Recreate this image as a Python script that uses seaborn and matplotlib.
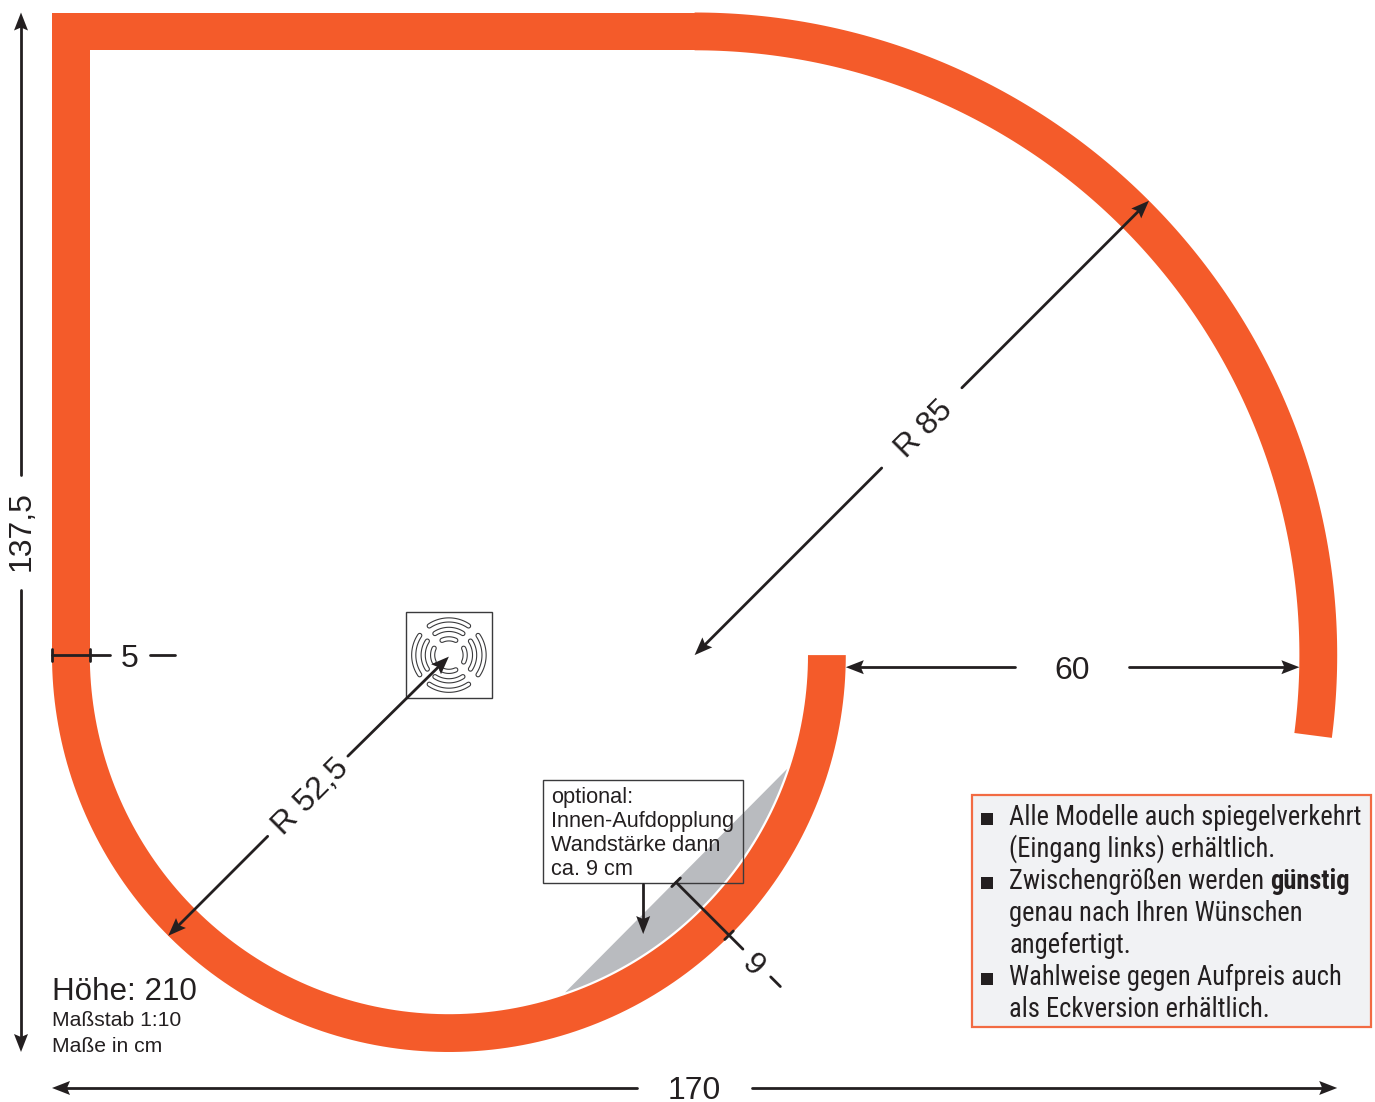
import numpy as np
import pandas as pd
import matplotlib
matplotlib.use("Agg")
import matplotlib.pyplot as plt
from matplotlib.patches import Polygon, Rectangle
from matplotlib import font_manager as fm
import seaborn as sns

# ---- drawing dimensions, all in cm ----
TOTAL_WIDTH = 170
TOTAL_DEPTH = 137.5
WALL = 5
R_LARGE = 85
R_SMALL = 52.5
LARGE_END_DEG = -7.4
OPENING = 60
PX_PER_CM = 7.56

DIM_LEFT_X = -4.1
DIM_BOTTOM_Y = -4.76
DIM_60_Y = 50.9

DIM_LABELS = ["137,5", "170", "60", "R 85", "R 52,5", "5", "9"]
SCALE_LINES = ["Höhe: 210", "Maßstab 1:10", "Maße in cm"]
OPTION_LINES = ["optional:", "Innen-Aufdopplung", "Wandstärke dann", "ca. 9 cm"]
OPTION_BASELINES = [32.9, 29.8, 26.6, 23.4]
NOTE_LINES = ["Alle Modelle auch spiegelverkehrt", "(Eingang links) erhältlich.",
              "Zwischengrößen werden ", "genau nach Ihren Wünschen", "angefertigt.",
              "Wahlweise gegen Aufpreis auch", "als Eckversion erhältlich."]
NOTE_BASELINES = [30.0, 25.8, 21.5, 17.3, 13.1, 8.8, 4.6]
NOTE_BULLET_ROWS = [0, 2, 5]
NOTE_BOLD = "günstig"

DRAIN_RADII = [2.15, 3.4, 4.65]
DRAIN_SPANS = [25, 33, 34]

ORANGE = "#f45b2a"
INK = "#231f20"
GREY = "#b9bbbf"
BOX_FILL = "#f1f2f4"
BOX_EDGE = "#f26b43"

sns.set_theme(style="white")
families = {f.name for f in fm.fontManager.ttflist}
NARROW = next((f for f in ["Roboto Condensed", "PT Sans Narrow", "Pragati Narrow", "Archivo Narrow",
                           "Liberation Sans"] if f in families), "DejaVu Sans")
plt.rcParams["font.family"] = ["Liberation Sans", "DejaVu Sans"]

fig, ax = plt.subplots(figsize=(13.75, 11.02), dpi=100)
ax.set_position([0, 0, 1, 1])


def arc(cx, cy, r, a0, a1, n=160):
    t = np.radians(np.linspace(a0, a1, n))
    return np.column_stack([cx + r * np.cos(t), cy + r * np.sin(t)])


def polar(cx, cy, r, deg):
    t = np.radians(deg)
    return cx + r * np.cos(t), cy + r * np.sin(t)


cx_l, cy_l = R_LARGE, TOTAL_DEPTH - R_LARGE
cx_s, cy_s = R_SMALL, R_SMALL

# grey optional lining
grey_arc = arc(cx_s, cy_s, R_SMALL - WALL - 0.3, -71, -18.6)
ax.add_patch(Polygon(grey_arc, closed=True, fc=GREY, ec="none", zorder=1))

# walls
large = np.vstack([arc(cx_l, cy_l, R_LARGE, 90, LARGE_END_DEG),
                   arc(cx_l, cy_l, R_LARGE - WALL, LARGE_END_DEG, 90)])
ax.add_patch(Polygon(large, closed=True, fc=ORANGE, ec="none", zorder=2))
small = np.vstack([arc(cx_s, cy_s, R_SMALL, 180, 360),
                   arc(cx_s, cy_s, R_SMALL - WALL, 360, 180)])
ax.add_patch(Polygon(small, closed=True, fc=ORANGE, ec="none", zorder=2))
ax.add_patch(Rectangle((0, TOTAL_DEPTH - WALL), R_LARGE + 2, WALL, fc=ORANGE, ec="none", zorder=2))
ax.add_patch(Rectangle((0, R_SMALL - 0.1), WALL, TOTAL_DEPTH - R_SMALL + 0.1, fc=ORANGE, ec="none", zorder=2))

# plain dimension strokes
p9a = polar(cx_s, cy_s, 42.5, -45)
p9b = polar(cx_s, cy_s, 52.4, -45)
p9c = polar(cx_s, cy_s, 55.0, -45)
d60 = polar(cx_s, cy_s, 60.2, -45)
d62 = polar(cx_s, cy_s, 62.0, -45)
tick = 0.8 * np.array([np.cos(np.radians(45)), np.sin(np.radians(45))])
segments = [
    ((0, R_SMALL), (7.7, R_SMALL)),
    ((12.9, R_SMALL), (16.3, R_SMALL)),
    ((0, R_SMALL - 0.8), (0, R_SMALL + 0.8)),
    ((WALL, R_SMALL - 0.8), (WALL, R_SMALL + 0.8)),
    (p9a, p9c),
    (tuple(np.array(p9a) - tick), tuple(np.array(p9a) + tick)),
    (tuple(np.array(p9b) - tick), tuple(np.array(p9b) + tick)),
    (d60, d62),
]

HEAD_LEN = 18 / PX_PER_CM
HEAD_HALF = 7 / PX_PER_CM
HEAD_NOTCH = 3 / PX_PER_CM


def arrow(start, tip):
    start = np.asarray(start, float)
    tip = np.asarray(tip, float)
    u = (tip - start) / np.linalg.norm(tip - start)
    n = np.array([-u[1], u[0]])
    back = tip - u * HEAD_LEN
    ax.add_patch(Polygon([tip, back + n * HEAD_HALF, back + u * HEAD_NOTCH, back - n * HEAD_HALF],
                         closed=True, fc=INK, ec="none", zorder=6))
    segments.append((tuple(start), tuple(back + u * (HEAD_NOTCH + 0.2))))


arrow((DIM_LEFT_X, 76.3), (DIM_LEFT_X, TOTAL_DEPTH))
arrow((DIM_LEFT_X, 61.1), (DIM_LEFT_X, 0))
arrow((77.4, DIM_BOTTOM_Y), (0, DIM_BOTTOM_Y))
arrow((92.6, DIM_BOTTOM_Y), (TOTAL_WIDTH, DIM_BOTTOM_Y))
arrow((127.4, DIM_60_Y), (TOTAL_WIDTH - WALL - OPENING, DIM_60_Y))
arrow((142.5, DIM_60_Y), (TOTAL_WIDTH - WALL, DIM_60_Y))
arrow(polar(cx_l, cy_l, 35, 45), (cx_l, cy_l))
arrow(polar(cx_l, cy_l, 50, 45), polar(cx_l, cy_l, R_LARGE, 45))
arrow(polar(cx_s, cy_s, 33.9, 225), polar(cx_s, cy_s, R_SMALL, 225))
arrow(polar(cx_s, cy_s, 18.9, 225), (cx_s, cy_s - 0.2))
arrow((78.2, 22.2), (78.2, 15.6))

rows = [{"seg": i, "x": p[0], "y": p[1]} for i, s in enumerate(segments) for p in s]
sns.lineplot(data=pd.DataFrame(rows), x="x", y="y", units="seg", estimator=None, sort=False,
             color=INK, lw=2.0, legend=False, ax=ax, zorder=5)

# dimension labels
lab = dict(color=INK, fontsize=23, ha="center", va="center", rotation_mode="anchor", zorder=7)
ax.text(DIM_LEFT_X + 0.1, 68.9, DIM_LABELS[0], rotation=90, **lab)
ax.text(85, -5.2, DIM_LABELS[1], **lab)
ax.text(135, 50.4, DIM_LABELS[2], **lab)
ax.text(*polar(cx_l, cy_l, 42.6, 44.4), DIM_LABELS[3], rotation=45, **lab)
ax.text(*polar(cx_s, cy_s, 26.2, 225.8), DIM_LABELS[4], rotation=45, **lab)
ax.text(10.3, 52.0, DIM_LABELS[5], **lab)
ax.text(*polar(cx_s, cy_s, 57.4, -45.7), DIM_LABELS[6], rotation=-45, **lab)

# scale notes
ax.text(0, 6.9, SCALE_LINES[0], fontsize=22.6, color=INK, va="baseline")
ax.text(0, 3.4, SCALE_LINES[1], fontsize=15.2, color=INK, va="baseline")
ax.text(0, 0.0, SCALE_LINES[2], fontsize=15.2, color=INK, va="baseline")

# option box
ax.add_patch(Rectangle((64.9, 22.4), 26.5, 13.6, fc="none", ec="#3a3a3c", lw=1.0, zorder=4))
for s, yb in zip(OPTION_LINES, OPTION_BASELINES):
    ax.text(66.0, yb, s, fontsize=15.7, color=INK, va="baseline", zorder=7)

# drain
dc = (cx_s, cy_s)
ax.add_patch(Rectangle((dc[0] - 5.7, dc[1] - 5.7), 11.4, 11.4, fc="white", ec="#3a3a3c", lw=1.0, zorder=3))
for base in (90, 0, 180, 270):
    for r, sp in zip(DRAIN_RADII, DRAIN_SPANS):
        xy = arc(dc[0], dc[1], r, base - sp, base + sp, 40)
        ax.plot(xy[:, 0], xy[:, 1], color="#3a3a3c", lw=3.8, solid_capstyle="round", zorder=3.1)
        ax.plot(xy[:, 0], xy[:, 1], color="white", lw=2.2, solid_capstyle="round", zorder=3.2)

# notes box
ax.add_patch(Rectangle((121.7, 3.3), 52.8, 30.7, fc=BOX_FILL, ec=BOX_EDGE, lw=1.6, zorder=3))

ax.set_xlim(-52 / PX_PER_CM, (1375 - 52) / PX_PER_CM)
ax.set_ylim((1052 - 1102) / PX_PER_CM, 1052 / PX_PER_CM)
ax.axis("off")

# pick the size that gives the first line its width in the reference (352 px)
probe = ax.text(126.6, NOTE_BASELINES[0], NOTE_LINES[0], family=NARROW, fontsize=20)
fig.canvas.draw()
note_size = 20 * 352 / probe.get_window_extent().width
probe.remove()

note_texts = []
for s, yb in zip(NOTE_LINES, NOTE_BASELINES):
    note_texts.append(ax.text(126.6, yb, s, family=NARROW, fontsize=note_size, color=INK,
                              va="baseline", zorder=7))
for i in NOTE_BULLET_ROWS:
    ax.add_patch(Rectangle((122.9, NOTE_BASELINES[i]), 1.6, 1.6, fc=INK, ec="none", zorder=7))

fig.canvas.draw()
ext = note_texts[2].get_window_extent().transformed(ax.transData.inverted())
ax.text(ext.x1, NOTE_BASELINES[2], NOTE_BOLD, family=NARROW, fontweight="bold", fontsize=note_size,
        color=INK, va="baseline", zorder=7)

fig.savefig("out.png", dpi=100, facecolor="white")
